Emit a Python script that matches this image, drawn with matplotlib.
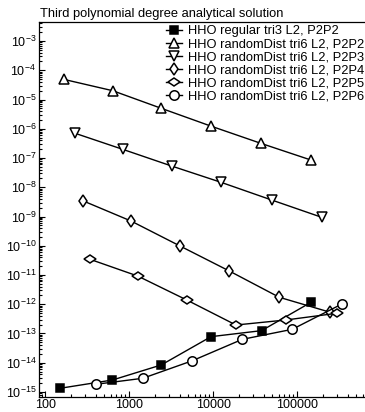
import numpy as np
import matplotlib
matplotlib.use("Agg")
import matplotlib.pyplot as plt
from matplotlib.markers import MarkerStyle
from matplotlib.transforms import Affine2D
from matplotlib.ticker import FixedLocator, FuncFormatter, NullFormatter

plt.rcParams['font.family'] = ['Liberation Sans', 'DejaVu Sans']
plt.rcParams['mathtext.fontset'] = 'custom'
plt.rcParams['mathtext.rm'] = 'Liberation Sans'

TITLE = "Third polynomial degree analytical solution"

# series
labels = [
    "HHO regular tri3 L2, P2P2",
    "HHO randomDist tri6 L2, P2P2",
    "HHO randomDist tri6 L2, P2P3",
    "HHO randomDist tri6 L2, P2P4",
    "HHO randomDist tri6 L2, P2P5",
    "HHO randomDist tri6 L2, P2P6",
]
x_reg_p2 = [150, 630, 2400, 9400, 37500, 146000]
y_reg_p2 = [1.34e-15, 2.57e-15, 8.4e-15, 7.8e-14, 1.25e-13, 1.17e-12]
x_rnd_p2 = [165, 634, 2400, 9300, 37000, 146000]
y_rnd_p2 = [4.9e-5, 2.0e-5, 5.0e-6, 1.24e-6, 3.16e-7, 8.5e-8]
x_rnd_p3 = [226, 834, 3200, 12400, 49600, 195000]
y_rnd_p3 = [7.0e-7, 1.98e-7, 5.3e-8, 1.47e-8, 3.66e-9, 9.4e-10]
x_rnd_p4 = [283, 1048, 4015, 15500, 61000, 242000]
y_rnd_p4 = [3.4e-9, 7.0e-10, 9.8e-11, 1.37e-11, 1.73e-12, 5.4e-13]
x_rnd_p5 = [340, 1260, 4820, 18600, 73300, 294000]
y_rnd_p5 = [3.44e-11, 9.2e-12, 1.40e-12, 1.95e-13, 2.9e-13, 4.9e-13]
x_rnd_p6 = [398, 1445, 5620, 22100, 87100, 340000]
y_rnd_p6 = [1.83e-15, 2.94e-15, 1.17e-14, 6.3e-14, 1.39e-13, 1.02e-12]

x_major = [100, 1000, 10000, 100000]
y_exponents = list(range(-15, -2))

W, H = 365, 412
fig = plt.figure(figsize=(W / 100, H / 100), dpi=100)
ax = fig.add_axes([39 / W, (H - 396.7) / H, (W - 39) / W, (396.7 - 22) / H])

wide_diamond = MarkerStyle('d', transform=Affine2D().rotate_deg(90))
styles = [
    dict(marker='s', ms=5.8, mfc='black'),
    dict(marker='^', ms=6.8, mfc='white'),
    dict(marker='v', ms=6.8, mfc='white'),
    dict(marker='d', ms=6.2, mfc='white'),
    dict(marker=wide_diamond, ms=6.2, mfc='white'),
    dict(marker='o', ms=6.8, mfc='white'),
]
series = [(x_reg_p2, y_reg_p2), (x_rnd_p2, y_rnd_p2), (x_rnd_p3, y_rnd_p3),
          (x_rnd_p4, y_rnd_p4), (x_rnd_p5, y_rnd_p5), (x_rnd_p6, y_rnd_p6)]
for (xs, ys), lab, st in zip(series, labels, styles):
    ax.plot(xs, ys, color='black', lw=1.0, mec='black', mew=1.1, label=lab, **st)

ax.set_xscale('log')
ax.set_yscale('log')
ax.set_xlim(84, 640000)
ax.set_ylim(6.9e-16, 4.47e-3)

x_minor = [m * 10.0 ** d for d in range(1, 6) for m in range(2, 10)]
y_minor = [m * 10.0 ** d for d in range(-16, -2) for m in range(2, 10)]
ax.xaxis.set_major_locator(FixedLocator(x_major))
ax.xaxis.set_minor_locator(FixedLocator([v for v in x_minor if 84 < v < 640000]))
ax.yaxis.set_major_locator(FixedLocator([10.0 ** e for e in y_exponents]))
ax.yaxis.set_minor_locator(FixedLocator([v for v in y_minor if 6.9e-16 < v < 4.47e-3]))
ax.xaxis.set_major_formatter(FuncFormatter(lambda v, p: f"{int(round(v))}"))
ax.yaxis.set_major_formatter(FuncFormatter(
    lambda v, p: r"$\mathregular{10^{%d}}$" % int(round(np.log10(v)))))
ax.xaxis.set_minor_formatter(NullFormatter())
ax.yaxis.set_minor_formatter(NullFormatter())

ax.tick_params(which='both', direction='in', top=False, right=False, labelsize=9, width=0.8)
ax.tick_params(which='major', length=4, pad=2)
ax.tick_params(which='minor', length=2)
ax.spines['right'].set_visible(False)
for s in ['left', 'bottom', 'top']:
    ax.spines[s].set_linewidth(0.9)

fig.text(40 / W, (H - 16.5) / H, TITLE, ha='left', va='baseline', fontsize=9.3)

ax.legend(loc='upper left', bbox_to_anchor=(165.7 / W, 1 - 25 / H),
          bbox_transform=fig.transFigure, frameon=False, fontsize=9.3,
          borderpad=0, borderaxespad=0, handlelength=1.3, handletextpad=0.4,
          labelspacing=0.08)

fig.savefig("out.png", dpi=100)
